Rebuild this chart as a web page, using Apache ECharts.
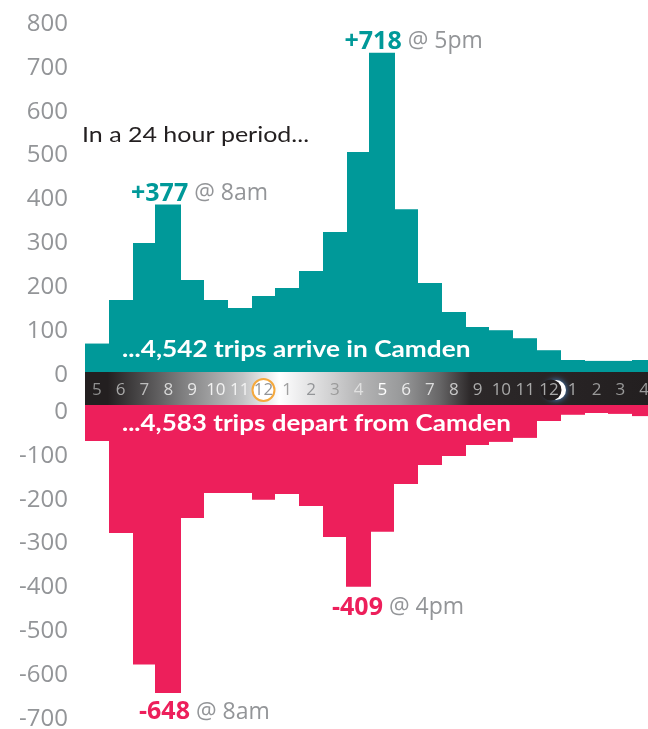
<!DOCTYPE html>
<html><head><meta charset="utf-8">
<style>html,body{margin:0;padding:0;background:#fff;overflow:hidden}#c{width:648px;height:729px}</style>
<script src="https://cdn.jsdelivr.net/npm/echarts@6/dist/echarts.min.js"></script>
</head><body><div id="c"></div>
<script>
const hours = ['5','6','7','8','9','10','11','12','1','2','3','4','5','6','7','8','9','10','11','12','1','2','3','4'];
const arrive = [64,162,290,377,207,162,144,171,189,227,315,495,718,366,200,135,101,94,76,49,27,25,25,27];
const depart = [-81,-288,-584,-648,-254,-198,-198,-213,-200,-227,-297,-409,-285,-178,-135,-115,-90,-83,-74,-36,-22,-18,-20,-25];
const upperTicksMax = 800;
const lowerTicksMin = -700;
const peakNotes = [
  {series:'arrive', index:3,  bold:'+377', rest:' @ 8am', dx:-24, dy:-11},
  {series:'arrive', index:12, bold:'+718', rest:' @ 5pm', dx:-24.5, dy:-11},
  {series:'depart', index:3,  bold:'-648', rest:' @ 8am', dx:-16, dy:19},
  {series:'depart', index:11, bold:'-409', rest:' @ 4pm', dx:-14, dy:21}
];
const hourColors = ['#8f8f8f','#a8a8a8','#bdbdbd','#d8d8d8','#e8e8e8','#f2f2f2','#f2f2f2','#939598','#a0a0a0','#939598','#9b9b9b','#e0e0e0',
  '#ffffff','#ececec','#dcdcdc','#c8c8c8','#ababab','#a8a8a8','#a8a8a8','#a8a8a8','#a8a8a8','#999999','#999999','#999999'];
const TEAL='#009999', PINK='#ED1F5B', GREY='#939598';

function stepBars(name,color){
  return function(params,api){
    const i=api.value(0), v=api.value(1);
    const w=api.size([1,0])[0];
    const p=api.coord([i,v]), z=api.coord([i,0]);
    const note=peakNotes.find(n=>n.series===name&&n.index===i);
    const grow=note?1:0;
    const left=Math.round(p[0]-w/2-grow);
    const right=Math.round(p[0]+w/2+grow);
    const children=[{type:'rect',shape:{x:left,y:Math.min(p[1],z[1]),width:right-left,height:Math.abs(p[1]-z[1])},style:{fill:color}}];
    if(note){
      children.push({type:'text',style:{
        x:left+note.dx,y:p[1]+note.dy,verticalAlign:'middle',align:'left',
        rich:{b:{fontFamily:'Open Sans',fontWeight:'bold',fontSize:25,fill:color,color:color},
              r:{fontFamily:'Open Sans',fontSize:23,fill:GREY,color:GREY}},
        text:'{b|'+note.bold+'}{r|'+note.rest+'}'}});
    }
    return {type:'group',children};
  };
}
const yLabel={color:GREY,fontFamily:'Open Sans',fontSize:24,margin:17};
const chart=echarts.init(document.getElementById('c'),null,{renderer:'canvas'});
chart.setOption({
  animation:false,
  grid:[
    {left:85,top:24,width:571,height:351,outerBoundsMode:'none'},
    {left:85,top:405,width:571,height:314,outerBoundsMode:'none'}
  ],
  xAxis:[
    {type:'category',gridIndex:0,data:hours,z:10,axisLine:{show:false},axisTick:{show:false},splitLine:{show:false},
     axisLabel:{interval:0,margin:7,fontFamily:'Open Sans',fontSize:17,hideOverlap:false,color:(v,i)=>hourColors[i]}},
    {type:'category',gridIndex:1,data:hours,show:false}
  ],
  yAxis:[
    {type:'value',gridIndex:0,min:0,max:upperTicksMax,interval:100,axisLine:{show:false},axisTick:{show:false},splitLine:{show:false},axisLabel:yLabel},
    {type:'value',gridIndex:0,min:-6.75,max:782.9,show:false,splitLine:{show:false}},
    {type:'value',gridIndex:1,min:lowerTicksMin,max:16,interval:100,axisLine:{show:false},axisTick:{show:false},splitLine:{show:false},
     axisLabel:Object.assign({},yLabel,{showMaxLabel:false})},
    {type:'value',gridIndex:1,min:-706.4,max:0,show:false,splitLine:{show:false}}
  ],
  series:[
    {type:'custom',name:'arrive',xAxisIndex:0,yAxisIndex:1,z:2,clip:false,renderItem:stepBars('arrive',TEAL),data:arrive.map((v,i)=>[i,v])},
    {type:'custom',name:'depart',xAxisIndex:1,yAxisIndex:3,z:2,clip:false,renderItem:stepBars('depart',PINK),data:depart.map((v,i)=>[i,v])}
  ],
  graphic:{elements:[
    {type:'rect',z:3,shape:{x:85,y:372,width:563,height:33},style:{fill:new echarts.graphic.LinearGradient(0,0,1,0,[
      {offset:0,color:'#231f20'},{offset:0.04,color:'#231f20'},{offset:0.09,color:'#444243'},{offset:0.19,color:'#8a8a8b'},
      {offset:0.28,color:'#c2c3c4'},{offset:0.345,color:'#ffffff'},{offset:0.39,color:'#e8e8e9'},{offset:0.44,color:'#cfcfd0'},
      {offset:0.49,color:'#b4b4b5'},{offset:0.56,color:'#999a9b'},{offset:0.63,color:'#676667'},{offset:0.685,color:'#2c2829'},{offset:1,color:'#231f20'}])}},
    {type:'circle',z:4,shape:{cx:263.5,cy:390,r:11},style:{fill:'#fff',stroke:'#F5A93D',lineWidth:2}},
    {type:'circle',z:4,shape:{cx:556,cy:390,r:10},style:{fill:'#fff',shadowBlur:6,shadowColor:'#4a90d9'}},
    {type:'circle',z:5,shape:{cx:551,cy:390,r:10.5},style:{fill:'#231f20'}},
    {type:'text',z:6,x:82,y:135,scaleX:1.136,style:{text:'In a 24 hour period...',fontFamily:'Lato',fontSize:22,fill:'#231f20',verticalAlign:'middle'}},
    {type:'text',z:6,x:122,y:350,scaleX:1.14,style:{text:'...4,542 trips arrive in Camden',fontFamily:'Lato',fontWeight:'bold',fontSize:23,fill:'#fff',verticalAlign:'middle'}},
    {type:'text',z:6,x:122,y:424,scaleX:1.13,style:{text:'...4,583 trips depart from Camden',fontFamily:'Lato',fontWeight:'bold',fontSize:23,fill:'#fff',verticalAlign:'middle'}}
  ]}
});
</script></body></html>
